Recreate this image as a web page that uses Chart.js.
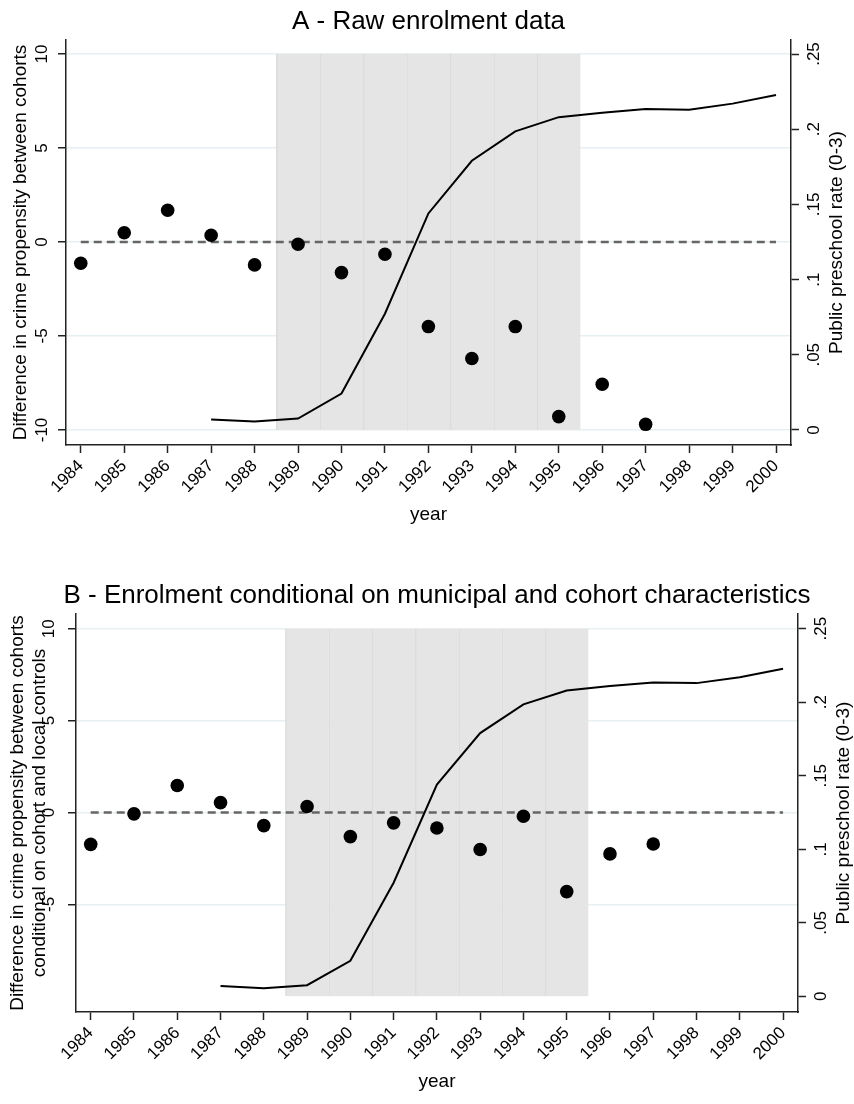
<!DOCTYPE html>
<html>
<head>
<meta charset="utf-8">
<script src="https://cdn.jsdelivr.net/npm/chart.js@4.4.1/dist/chart.umd.min.js"></script>
<style>
  body { margin: 0; background: #fff; }
  canvas { position: absolute; left: 0; }
</style>
</head>
<body>
<canvas id="panelA" width="854" height="545" style="top:0px"></canvas>
<canvas id="panelB" width="854" height="559" style="top:545px"></canvas>
<script>
var FONT = "'Liberation Sans', Arial, Helvetica, sans-serif";

// x axis: cohort years
var years = [1984, 1985, 1986, 1987, 1988, 1989, 1990, 1991, 1992, 1993, 1994, 1995, 1996, 1997, 1998, 1999, 2000];

// scatter: difference in crime propensity (left axis)
var pointYears = [1984, 1985, 1986, 1987, 1988, 1989, 1990, 1991, 1992, 1993, 1994, 1995, 1996, 1997];
var crimeRaw  = [-1.13, 0.49, 1.69, 0.36, -1.22, -0.12, -1.63, -0.65, -4.5, -6.2, -4.5, -9.29, -7.57, -9.7];
var crimeCond = [-1.73, -0.07, 1.47, 0.54, -0.71, 0.33, -1.31, -0.56, -0.84, -2.01, -0.2, -4.3, -2.25, -1.71];

// line: public preschool rate (right axis)
var rateYears = [1987, 1988, 1989, 1990, 1991, 1992, 1993, 1994, 1995, 1996, 1997, 1998, 1999, 2000];
var preschoolRate = [0.007, 0.0056, 0.0076, 0.0242, 0.0773, 0.144, 0.179, 0.1986, 0.208, 0.211, 0.2135, 0.213, 0.217, 0.2228];

// shaded cohorts
var shadeYears = [1989, 1990, 1991, 1992, 1993, 1994, 1995];

// tick labels
var leftTicksA = [-10, -5, 0, 5, 10];
var leftTicksB = [-5, 0, 5, 10];
var rightTicks = [0, 0.05, 0.1, 0.15, 0.2, 0.25];
var rightTickLabels = ['0', '.05', '.1', '.15', '.2', '.25'];

Chart.defaults.font.family = FONT;
Chart.defaults.color = '#000';

function rotText(ctx, txt, x, y) {
    ctx.save();
    ctx.translate(x, y);
    ctx.rotate(-Math.PI / 2);
    ctx.textAlign = 'center';
    ctx.textBaseline = 'middle';
    ctx.fillText(txt, 0, 0);
    ctx.restore();
}

var panelText = {
    id: 'panelText',
    afterDraw: function (chart, args, o) {
        var ctx = chart.ctx, a = chart.chartArea;
        var yL = chart.scales.y, yR = chart.scales.y1;
        var cx = (a.left + a.right) / 2, cy = (a.top + a.bottom) / 2;
        ctx.save();
        ctx.fillStyle = '#000';
        ctx.font = '26px ' + FONT;
        ctx.textAlign = 'center';
        ctx.textBaseline = 'alphabetic';
        ctx.fillText(o.title, cx, o.titleBaseline);

        ctx.font = '17px ' + FONT;
        o.leftTicks.forEach(function (v) {
            rotText(ctx, String(v), a.left - o.leftTickGap, yL.getPixelForValue(v));
        });
        rightTicks.forEach(function (v, i) {
            rotText(ctx, rightTickLabels[i], a.right + 23, yR.getPixelForValue(v));
        });

        ctx.font = '19px ' + FONT;
        o.leftTitle.forEach(function (line, i) {
            rotText(ctx, line, o.leftTitleX[i], cy);
        });
        rotText(ctx, 'Public preschool rate (0-3)', a.right + 46, cy);
        ctx.textAlign = 'center';
        ctx.textBaseline = 'middle';
        ctx.fillText('year', cx, a.bottom + 70);
        ctx.restore();
    }
};

function makePanel(id, p) {
    var toRight = function (v) { return (v + 10) / 80; };
    var ctx = document.getElementById(id).getContext('2d');
    return new Chart(ctx, {
        type: 'scatter',
        data: {
            datasets: [{
                type: 'bar',
                data: shadeYears.map(function (x) { return { x: x, y: [-10, 10] }; }),
                yAxisID: 'y',
                backgroundColor: '#e5e5e5',
                borderColor: '#dcdcdc',
                borderWidth: { left: 1.5, right: 0, top: 0, bottom: 0 },
                borderSkipped: false,
                barPercentage: 1,
                categoryPercentage: 1,
                order: 4
            }, {
                type: 'line',
                data: [{ x: 1984, y: 0 }, { x: 2000, y: 0 }],
                yAxisID: 'y',
                borderColor: '#666',
                borderWidth: 2.4,
                borderDash: [8, 5],
                pointRadius: 0,
                order: 3
            }, {
                type: 'line',
                data: rateYears.map(function (x, i) { return { x: x, y: preschoolRate[i] }; }),
                yAxisID: 'y1',
                borderColor: '#000',
                borderWidth: 2,
                pointRadius: 0,
                tension: 0,
                order: 2
            }, {
                type: 'scatter',
                data: pointYears.map(function (x, i) { return { x: x, y: p.crime[i] }; }),
                yAxisID: 'y',
                backgroundColor: '#000',
                borderWidth: 0,
                pointRadius: 6.8,
                order: 1
            }]
        },
        options: {
            responsive: false,
            animation: false,
            layout: { padding: { top: p.padTop, left: 0, right: 0, bottom: 0 } },
            plugins: {
                legend: { display: false },
                tooltip: { enabled: false },
                panelText: p
            },
            scales: {
                x: {
                    type: 'linear',
                    offset: false,
                    min: 1983.66,
                    max: 2000.345,
                    afterBuildTicks: function (s) { s.ticks = years.map(function (v) { return { value: v }; }); },
                    afterFit: function (s) { s.height = p.xH; },
                    ticks: {
                        autoSkip: false,
                        minRotation: 45,
                        maxRotation: 45,
                        padding: 3,
                        font: { size: 17 },
                        callback: function (v) { return String(v); }
                    },
                    grid: { offset: false, drawOnChartArea: false, tickLength: 8, tickColor: '#222', tickWidth: 1.5 },
                    border: { color: '#222', width: 1.5 }
                },
                y: {
                    position: 'left',
                    min: p.yMin,
                    max: p.yMax,
                    afterBuildTicks: function (s) { s.ticks = p.leftTicks.map(function (v) { return { value: v }; }); },
                    afterFit: function (s) { s.width = p.leftW; },
                    ticks: { display: false },
                    grid: { color: '#e8eff2', lineWidth: 1.5, tickLength: 8, tickColor: '#222', tickWidth: 1.5 },
                    border: { color: '#222', width: 1.5 }
                },
                y1: {
                    position: 'right',
                    min: toRight(p.yMin),
                    max: toRight(p.yMax),
                    afterBuildTicks: function (s) { s.ticks = rightTicks.map(function (v) { return { value: v }; }); },
                    afterFit: function (s) { s.width = p.rightW; },
                    ticks: { display: false },
                    grid: { drawOnChartArea: false, tickLength: 8, tickColor: '#222', tickWidth: 1.5 },
                    border: { color: '#222', width: 1.5 }
                }
            }
        },
        plugins: [panelText]
    });
}

makePanel('panelA', {
    title: 'A - Raw enrolment data',
    titleBaseline: 29,
    crime: crimeRaw,
    leftTicks: leftTicksA,
    leftTitle: ['Difference in crime propensity between cohorts'],
    leftTitleX: [21],
    leftTickGap: 24,
    padTop: 40, xH: 100, leftW: 66, rightW: 63,
    yMin: -10.8, yMax: 10.745
});

makePanel('panelB', {
    title: 'B - Enrolment conditional on municipal and cohort characteristics',
    titleBaseline: 58,
    crime: crimeCond,
    leftTicks: leftTicksB,
    leftTitle: ['Difference in crime propensity between cohorts', 'conditional on cohort and local controls'],
    leftTitleX: [18, 40],
    leftTickGap: 27,
    padTop: 69, xH: 92, leftW: 76, rightW: 56,
    yMin: -10.85, yMax: 10.8
});
</script>
</body>
</html>
